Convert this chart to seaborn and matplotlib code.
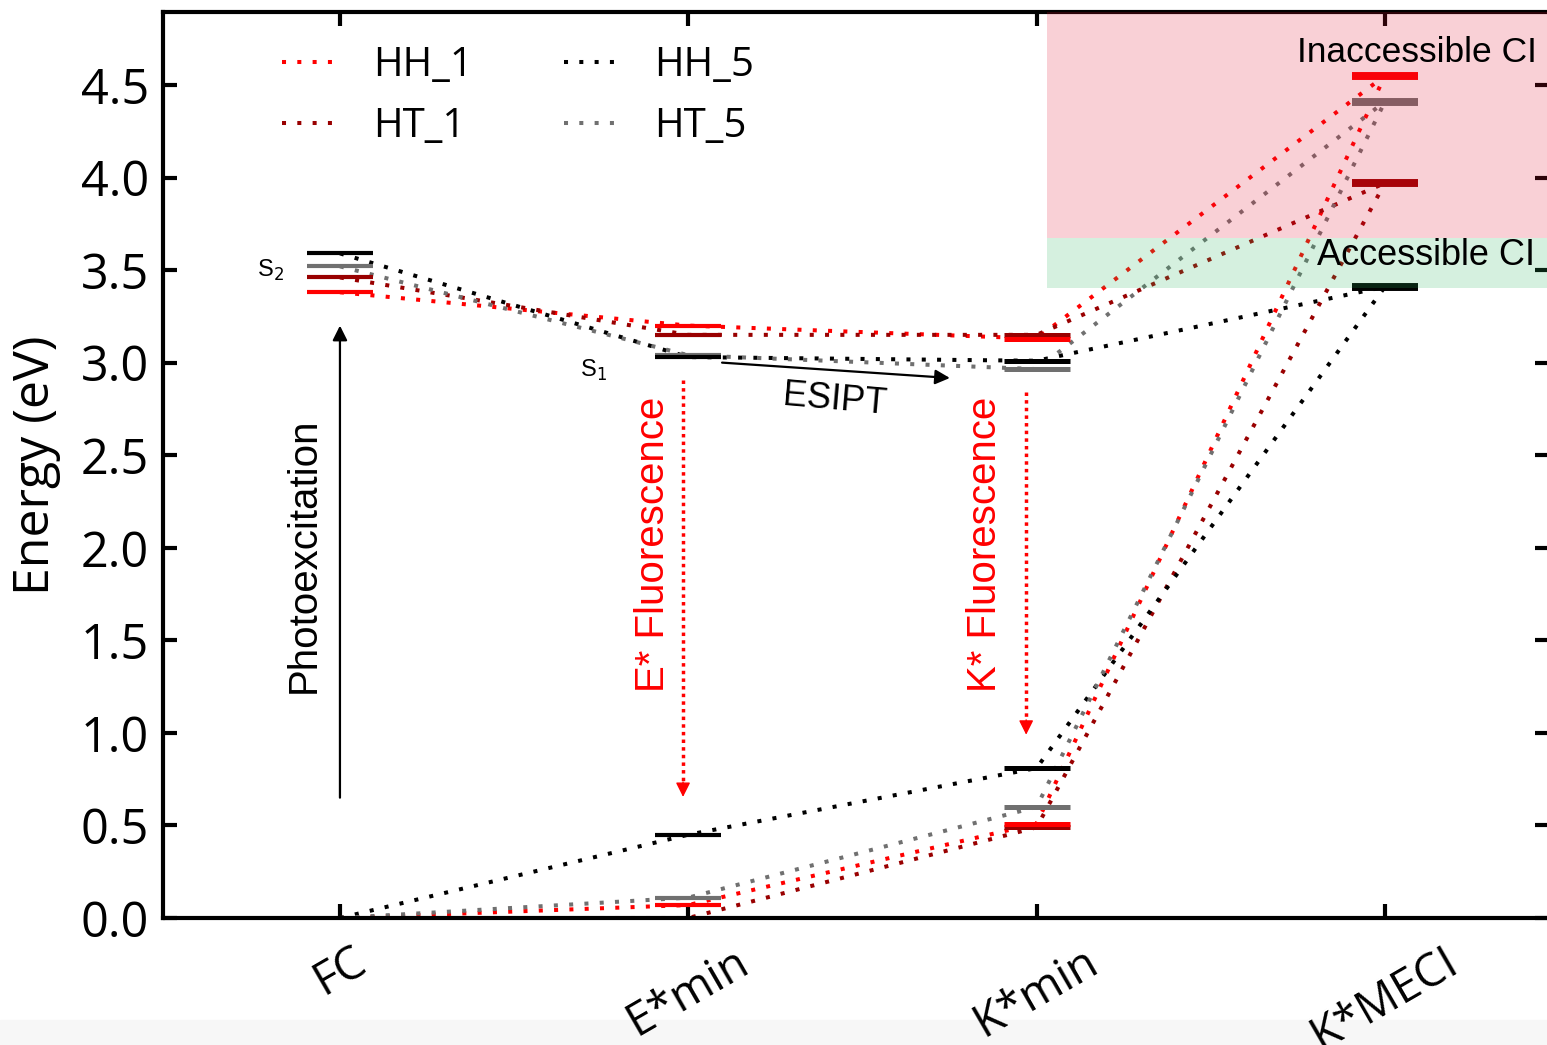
"""
Energy level diagram: FC -> E*min -> K*min -> K*MECI for four systems.
"""

import matplotlib
matplotlib.use('Agg')
import matplotlib.pyplot as plt
import seaborn as sns
import pandas as pd
import numpy as np
from matplotlib.lines import Line2D
from matplotlib.patches import Rectangle

# --- data (eV) ----------------------------------------------------------
states = ['FC', 'E*min', 'K*min', 'K*MECI']
series = ['HH_1', 'HT_1', 'HH_5', 'HT_5']

# excited-state branch (S2 at FC, S1 afterwards)
s1_hh_1 = [3.38, 3.20, 3.13, 4.55]
s1_ht_1 = [3.46, 3.15, 3.15, 3.97]
s1_hh_5 = [3.59, 3.03, 3.01, 3.41]
s1_ht_5 = [3.52, 3.04, 2.965, 4.41]

# ground-state branch (S0), ends on the same MECI point
s0_hh_1 = [0.0, 0.07, 0.51, 4.55]
s0_ht_1 = [0.0, 0.0, 0.49, 3.97]
s0_hh_5 = [0.0, 0.45, 0.81, 3.41]
s0_ht_5 = [0.0, 0.11, 0.60, 4.41]

inaccessible_band = (3.674, 4.9)
accessible_band = (3.404, 3.674)

palette = {'HH_1': '#ff0000', 'HT_1': '#990000',
           'HH_5': '#000000', 'HT_5': '#707070'}

s1 = {'HH_1': s1_hh_1, 'HT_1': s1_ht_1, 'HH_5': s1_hh_5, 'HT_5': s1_ht_5}
s0 = {'HH_1': s0_hh_1, 'HT_1': s0_ht_1, 'HH_5': s0_hh_5, 'HT_5': s0_ht_5}

rows = []
for name in series:
    for surf, table in (('S1', s1), ('S0', s0)):
        for i, st in enumerate(states):
            rows.append({'series': name, 'surface': surf, 'state': st,
                         'pos': i, 'energy': table[name][i]})
df = pd.DataFrame(rows)

# --- styling -------------------------------------------------------------
sns.set_style('ticks')
plt.rcParams['font.family'] = ['Open Sans', 'DejaVu Sans']
for key in ('text.color', 'axes.labelcolor', 'xtick.color', 'ytick.color',
            'axes.edgecolor'):
    plt.rcParams[key] = 'black'
annot_font = ['Liberation Sans', 'DejaVu Sans']

W, H = 1547, 1045
fig = plt.figure(figsize=(W / 100, H / 100), dpi=100)
fig.patches.append(Rectangle((0, 0), 1, 25 / H, transform=fig.transFigure,
                             color='#f7f7f7', zorder=-5))
ax = fig.add_axes([163 / W, 127 / H, 1386 / W, 906 / H])

dots = (0, (1, 2.8))
sns.lineplot(data=df, x='pos', y='energy', hue='series', units='surface',
             estimator=None, sort=False, palette=palette, hue_order=series,
             linewidth=2.9, linestyle=dots, legend=False, ax=ax, zorder=2.3)

# level bars (ground-state zero levels sit on the axis and are not drawn)
half = 0.095
bar_lw = [3.0, 3.0, 3.6, 5.5]
for name in reversed(series):
    for table in (s1, s0):
        for i in range(len(states)):
            if table[name][i] <= 0:
                continue
            ax.hlines(table[name][i], i - half, i + half,
                      color=palette[name], lw=bar_lw[i], zorder=2.4)

# shaded CI regions drawn as a tint over everything
ax.add_patch(Rectangle((2.03, inaccessible_band[0]), 3,
                       inaccessible_band[1] - inaccessible_band[0],
                       facecolor='#e11432', alpha=0.2, lw=0, zorder=4))
ax.add_patch(Rectangle((2.03, accessible_band[0]), 3,
                       accessible_band[1] - accessible_band[0],
                       facecolor='#2db45f', alpha=0.2, lw=0, zorder=4))

ax.set_xlim(-0.508, 3.471)
ax.set_ylim(0, 4.894)
ax.set_xticks(range(len(states)))
ax.set_xticklabels(states, rotation=30, ha='center')
ax.set_yticks(np.arange(0, 4.6, 0.5))
ax.set_yticklabels([f'{v:.1f}' for v in np.arange(0, 4.6, 0.5)])
ax.set_xlabel('')
ax.set_ylabel('Energy (eV)', fontsize=36, labelpad=14)
ax.tick_params(axis='both', direction='in', length=10, width=3,
               top=True, right=True)
ax.tick_params(axis='x', pad=15, labelsize=33)
ax.tick_params(axis='y', pad=10, labelsize=35)
for sp in ax.spines.values():
    sp.set_visible(True)
    sp.set_linewidth(3)

# legend
handles = [Line2D([], [], color=palette[n], lw=2.9, linestyle=dots)
           for n in series]
ax.legend(handles, series, loc='upper left', bbox_to_anchor=(0.06, 1.003),
          ncol=2, frameon=False, fontsize=29, handlelength=1.5,
          handletextpad=0.75, columnspacing=2.25, labelspacing=0.5)

# annotations
ax.text(-0.2, 3.50, 'S$_2$', fontsize=17, family=annot_font,
        ha='center', va='center')
ax.text(0.729, 2.96, 'S$_1$', fontsize=17, family=annot_font,
        ha='center', va='center')

ax.annotate('', xy=(0, 3.2), xytext=(0, 0.65),
            arrowprops=dict(arrowstyle='-|>', lw=1.6, color='black',
                            mutation_scale=22, shrinkA=0, shrinkB=0))
ax.text(-0.103, 1.96, 'Photoexcitation', rotation=90, fontsize=29,
        family=annot_font, ha='center', va='center')

ax.annotate('', xy=(1.751, 2.917), xytext=(1.097, 3.0),
            arrowprops=dict(arrowstyle='-|>', lw=1.6, color='black',
                            mutation_scale=22, shrinkA=0, shrinkB=0))
ax.text(1.421, 2.80, 'ESIPT', rotation=-5, fontsize=26,
        family=annot_font, ha='center', va='center')

for xa, y0, y1, xt, label in ((0.985, 2.906, 0.654, 0.899, 'E* Fluorescence'),
                              (1.97, 2.84, 0.99, 1.852, 'K* Fluorescence')):
    ax.plot([xa, xa], [y0, y1 + 0.06], color='red', lw=2.5,
            linestyle=(0, (1, 1.2)), zorder=3)
    ax.annotate('', xy=(xa, y1), xytext=(xa, y1 + 0.08),
                arrowprops=dict(arrowstyle='-|>', lw=1, color='red',
                                mutation_scale=22, shrinkA=0, shrinkB=0))
    ax.text(xt, 2.02, label, rotation=90, fontsize=29, color='red',
            family=annot_font, ha='center', va='center')

ax.text(3.437, 4.673, 'Inaccessible CI', fontsize=25.5, family=annot_font,
        ha='right', va='center', zorder=5)
ax.text(3.431, 3.576, 'Accessible CI', fontsize=26, family=annot_font,
        ha='right', va='center', zorder=5)

fig.savefig('out.png', dpi=100)
